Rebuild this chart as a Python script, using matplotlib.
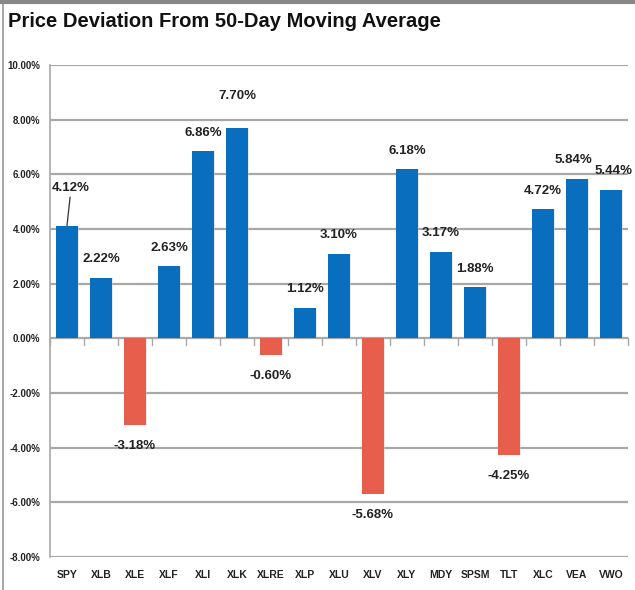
import matplotlib
matplotlib.use("Agg")
import matplotlib.pyplot as plt
from matplotlib.lines import Line2D
import numpy as np

categories = ["SPY", "XLB", "XLE", "XLF", "XLI", "XLK", "XLRE", "XLP", "XLU",
              "XLV", "XLY", "MDY", "SPSM", "TLT", "XLC", "VEA", "VWO"]
values = [4.12, 2.22, -3.18, 2.63, 6.86, 7.70, -0.60, 1.12, 3.10,
          -5.68, 6.18, 3.17, 1.88, -4.25, 4.72, 5.84, 5.44]
yticks = [-8, -6, -4, -2, 0, 2, 4, 6, 8, 10]

FONT = ["Liberation Sans Narrow", "Liberation Sans", "DejaVu Sans"]
plt.rcParams["font.family"] = FONT

BLUE = "#0A6EBE"
RED = "#E85E4C"

fig = plt.figure(figsize=(6.35, 5.90), dpi=100)
ax = fig.add_axes([0.0787, 0.0559, 0.9103, 0.8339])

x = np.arange(len(categories))
colors = [BLUE if v >= 0 else RED for v in values]
ax.bar(x + 0.04, values, width=0.62, color="#cfcfcf", alpha=0.45, zorder=2)
ax.bar(x, values, width=0.62, color=colors, zorder=3)

ax.set_xlim(-0.5, len(categories) - 0.5)
ax.set_ylim(-8, 10)
ax.set_yticks(yticks)
ax.set_yticklabels([f"{t:.2f}%" for t in yticks], fontsize=7, color="#222222",
                   fontweight="bold")
ax.yaxis.grid(True, color="#a8a8a8", linewidth=1.6, zorder=0)
ax.set_axisbelow(True)
ax.tick_params(axis="y", length=0, pad=7)
ax.set_xticks(x)
ax.set_xticklabels(categories, fontsize=7.5, fontweight="bold", color="#222222")
ax.tick_params(axis="x", length=0, pad=9)

for s in ["top", "right", "bottom"]:
    ax.spines[s].set_visible(False)
ax.spines["left"].set_color("#a8a8a8")
ax.spines["left"].set_linewidth(1.2)

ax.axhline(0, color="#a8a8a8", linewidth=1.4, zorder=1)
for b in np.arange(len(categories) + 1) - 0.5:
    ax.plot([b, b], [0, -0.25], color="#a8a8a8", linewidth=1, zorder=1,
            clip_on=False)

for i, v in enumerate(values):
    txt = f"{v:.2f}%"
    if i == 0:
        ax.annotate(txt, xy=(i, v), xytext=(i + 0.12, v + 1.15),
                    ha="center", va="bottom", fontsize=9.5, fontweight="bold",
                    color="#222222",
                    arrowprops=dict(arrowstyle="-", color="#333333", lw=0.9,
                                    shrinkA=0, shrinkB=0))
    elif v >= 0:
        xo = 0
        off = 0.45
        if categories[i] == "VEA":
            xo = -0.1
        if categories[i] == "VWO":
            xo = 0.08
        if categories[i] == "XLK":
            off = 0.95
        ax.text(i + xo, v + off, txt, ha="center", va="bottom", fontsize=9.5,
                fontweight="bold", color="#222222", zorder=4)
    else:
        ax.text(i, v - 0.55, txt, ha="center", va="top", fontsize=9.5,
                fontweight="bold", color="#222222", zorder=4)

fig.text(0.013, 0.963, "Price Deviation From 50-Day Moving Average",
         fontsize=14.5, fontweight="bold", ha="left", va="center",
         color="#111111")

fig.add_artist(Line2D([0.005, 0.005], [0, 1], transform=fig.transFigure,
                      color="#999999", linewidth=1.2))
fig.add_artist(Line2D([0, 1], [0.997, 0.997], transform=fig.transFigure,
                      color="#888888", linewidth=3))

fig.savefig("out.png", dpi=100)
